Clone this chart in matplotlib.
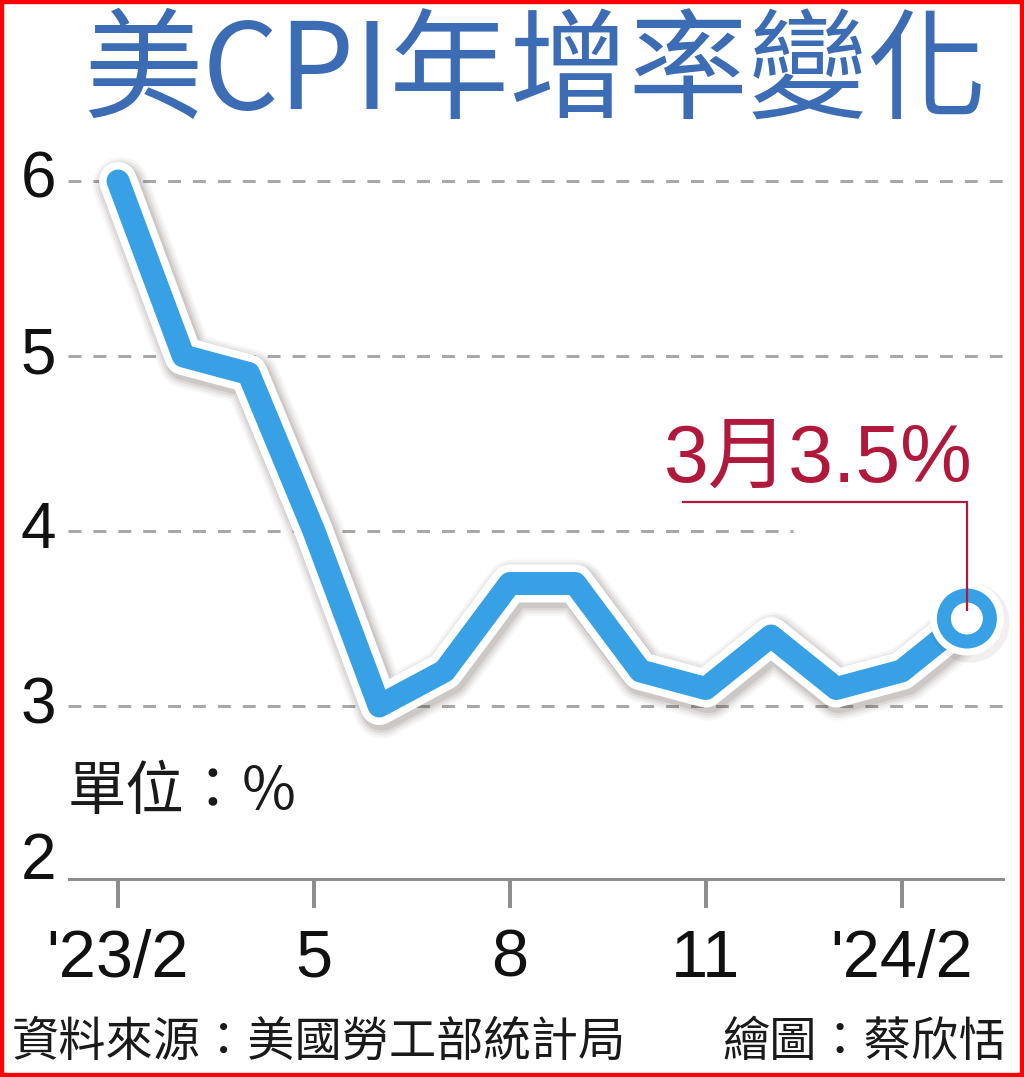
import matplotlib
matplotlib.use('Agg')
import matplotlib.pyplot as plt
import matplotlib.patheffects as pe
from matplotlib.patches import Rectangle
import matplotlib.transforms as mtransforms

# ---- data ----
months = ["'23/2", "3", "4", "5", "6", "7", "8", "9", "10", "11", "12", "'24/1", "2", "3"]
cpi = [6.0, 5.0, 4.9, 4.0, 3.0, 3.2, 3.7, 3.7, 3.2, 3.1, 3.4, 3.1, 3.2, 3.5]
tick_idx = [0, 3, 6, 9, 12]
tick_labels = ["'23/2", "5", "8", "11", "'24/2"]
yticks = [2, 3, 4, 5, 6]
title = "美CPI年增率變化"
callout = "3月3.5%"
unit = "單位：%"
source = "資料來源：美國勞工部統計局"
credit = "繪圖：蔡欣恬"

BLUE = '#38a0e4'
TITLE_C = '#3c6cb4'
RED = '#b0183c'
GRID = '#a8a8a8'
AXC = '#8e8e8e'
PX = 0.72  # points per pixel at dpi 100

CJK = ['Noto Sans CJK TC', 'DejaVu Sans']
NUM = ['Liberation Sans', 'Noto Sans CJK TC', 'DejaVu Sans']

fig = plt.figure(figsize=(10.24, 10.77), dpi=100)
W, H = 1024, 1077
ax_l, ax_r, ax_b, ax_t = 68, 1005, 881, 150
ax = fig.add_axes([ax_l / W, 1 - ax_b / H, (ax_r - ax_l) / W, (ax_b - ax_t) / H])

x = list(range(len(months)))
px_per_month = 65.3
x0_px = 118
ax.set_xlim((ax_l - x0_px) / px_per_month, (ax_r - x0_px) / px_per_month)
ax.set_ylim(2, 2 + (ax_b - ax_t) / 175.0)

for s in ax.spines.values():
    s.set_visible(False)

# gridlines
for yv in yticks[1:]:
    xmax = 1.0
    if yv == 4:
        xmax = (793 - ax_l) / (ax_r - ax_l)
    ax.axhline(yv, xmin=0, xmax=xmax, color=GRID, lw=3 * PX,
               linestyle=(0, (4.3, 4.0)), zorder=1)
# axis line
ax.axhline(2, color=AXC, lw=6 * PX, zorder=2, solid_capstyle='butt')

# ticks
ax.set_xticks(tick_idx, tick_labels)
ax.set_yticks([])
ax.tick_params(axis='x', length=27 * PX, width=4 * PX, color=AXC, direction='out',
               pad=15, labelsize=48, labelcolor='#111111')
for lab in ax.get_xticklabels():
    lab.set_family(NUM)

# y labels
trans = mtransforms.blended_transform_factory(ax.transAxes, ax.transData)
for yv in yticks:
    yy = yv if yv != 2 else yv + 0.11
    ax.text(-12 / (ax_r - ax_l), yy, str(yv), transform=trans, ha='right', va='center',
            fontsize=46, family=NUM, color='#111111')

# shadow + white outline + blue line
def effects(white_w):
    eff = []
    for w, a in [(white_w + 18, 0.04), (white_w + 13, 0.06), (white_w + 8, 0.08), (white_w + 3, 0.10)]:
        eff.append(pe.Stroke(linewidth=w * PX, foreground='#3a2a20', alpha=a, offset=(2.0, -3.0)))
    eff.append(pe.Stroke(linewidth=white_w * PX, foreground='white'))
    eff.append(pe.Normal())
    return eff

ax.plot(x, cpi, color=BLUE, lw=23 * PX, solid_joinstyle='round', solid_capstyle='round',
        path_effects=effects(38), clip_on=False, zorder=3)

# end marker
outer, inner = 60, 32
ms = (outer + inner) / 2 * PX
mew = (outer - inner) / 2 * PX
ax.plot([x[-1]], [cpi[-1]], marker='o', ms=ms, mew=mew, mfc='white', mec=BLUE,
        linestyle='none', clip_on=False, zorder=4,
        path_effects=[pe.Stroke(linewidth=mew + 20 * PX, foreground='#3a2a20', alpha=0.07, offset=(2, -3)),
                      pe.Stroke(linewidth=mew + 14 * PX, foreground='white'), pe.Normal()])

# callout
y_h = cpi[-1] + 0.666
x_start = x[-1] - 4.35
ax.plot([x_start, x[-1], x[-1]], [y_h, y_h, cpi[-1] + 0.05], color=RED, lw=2.2 * PX,
        zorder=6, clip_on=False, solid_joinstyle='miter')
ax.text(x[-1] - 2.27, y_h + 0.115, callout, ha='center', va='baseline', fontsize=58,
        color=RED, family=NUM, zorder=6)

# title
fig.text(535 / W, 1 - 75 / H, title, ha='center', va='center', fontsize=86,
         color=TITLE_C, family=CJK, fontweight='medium')

# unit
fig.text(68 / W, 1 - 792 / H, unit, ha='left', va='center', fontsize=42,
         color='#1a1a1a', family=CJK)

# footer
fig.text(12 / W, 1 - 1043 / H, source, ha='left', va='center', fontsize=34,
         color='#1a1a1a', family=CJK)
fig.text(1006 / W, 1 - 1043 / H, credit, ha='right', va='center', fontsize=34,
         color='#1a1a1a', family=CJK)

# red frame
fig.patches.append(Rectangle((0, 0), 1, 1, transform=fig.transFigure, fill=False,
                             edgecolor='#ff0000', linewidth=6, zorder=10))

fig.savefig('out.png', dpi=100, facecolor='white')
